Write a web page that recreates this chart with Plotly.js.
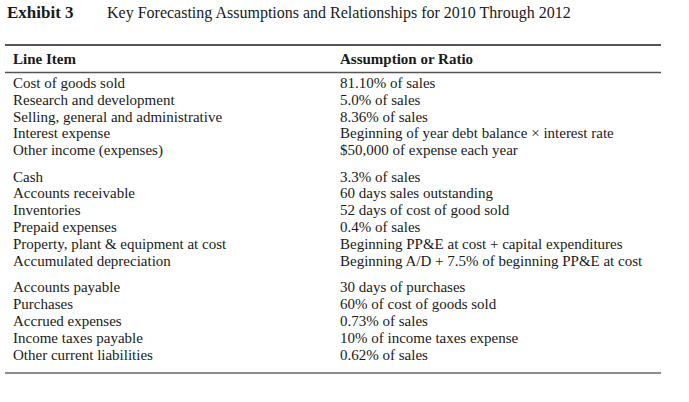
<!DOCTYPE html>
<html>
<head>
<meta charset="utf-8">
<script src="https://cdn.plot.ly/plotly-3.0.1.min.js"></script>
<style>html,body{margin:0;padding:0;background:#fff;}#chart{width:689px;height:402px;}</style>
</head>
<body>
<div id="chart"></div>
<script>
// ---- Data ----
const titleLabel = "Exhibit 3";
const titleText = "Key Forecasting Assumptions and Relationships for 2010 Through 2012";
const headers = ["Line Item", "Assumption or Ratio"];
const lineItems = [
  "Cost of goods sold",
  "Research and development",
  "Selling, general and administrative",
  "Interest expense",
  "Other income (expenses)",
  "Cash",
  "Accounts receivable",
  "Inventories",
  "Prepaid expenses",
  "Property, plant & equipment at cost",
  "Accumulated depreciation",
  "Accounts payable",
  "Purchases",
  "Accrued expenses",
  "Income taxes payable",
  "Other current liabilities"
];
const assumptions = [
  "81.10% of sales",
  "5.0% of sales",
  "8.36% of sales",
  "Beginning of year debt balance \u00d7 interest rate",
  "$50,000 of expense each year",
  "3.3% of sales",
  "60 days sales outstanding",
  "52 days of cost of good sold",
  "0.4% of sales",
  "Beginning PP&E at cost + capital expenditures",
  "Beginning A/D + 7.5% of beginning PP&E at cost",
  "30 days of purchases",
  "60% of cost of goods sold",
  "0.73% of sales",
  "10% of income taxes expense",
  "0.62% of sales"
];
const groupOf = [0,0,0,0,0, 1,1,1,1,1,1, 2,2,2,2,2];

// ---- Layout (positions) ----
const W = 689, H = 402;
const colX = [13, 340];
const rowY0 = 84, rowStep = 16.9, groupGap = 9.3;
const rowY = lineItems.map((_, i) => rowY0 + i * rowStep + groupOf[i] * groupGap);
const headerY = 60;
const FONT = "Liberation Serif, Times New Roman, serif";
const TXT = "#1a1a1a";
const BODY = 15;

function textTrace(xs, ys, texts, size, color) {
  return {
    type: "scatter", mode: "text", x: xs, y: ys, text: texts,
    textposition: "middle right", textfont: {family: FONT, size: size, color: color || TXT},
    hoverinfo: "skip", showlegend: false, cliponaxis: false
  };
}

const traces = [
  textTrace(lineItems.map(() => colX[0]), rowY, lineItems, BODY),
  textTrace(assumptions.map(() => colX[1]), rowY, assumptions, BODY),
  textTrace(colX, [headerY, headerY], headers.map(h => "<b>" + h + "</b>"), BODY),
  textTrace([7], [14], ["<b>" + titleLabel + "</b>"], 17),
  textTrace([107], [14], [titleText], 16)
];

const rule = (y, w, c) => ({type: "line", xref: "x", yref: "y", x0: 5, x1: 661, y0: y, y1: y, line: {color: c, width: w}});

const layout = {
  width: W, height: H,
  margin: {l: 0, r: 0, t: 0, b: 0},
  paper_bgcolor: "#fff", plot_bgcolor: "#fff",
  xaxis: {range: [0, W], visible: false, fixedrange: true},
  yaxis: {range: [H, 0], visible: false, fixedrange: true},
  shapes: [rule(45, 2, "#555"), rule(72.5, 1.5, "#555"), rule(373, 1.5, "#666")],
  showlegend: false
};

Plotly.newPlot("chart", traces, layout, {staticPlot: true, displayModeBar: false});
</script>
</body>
</html>
